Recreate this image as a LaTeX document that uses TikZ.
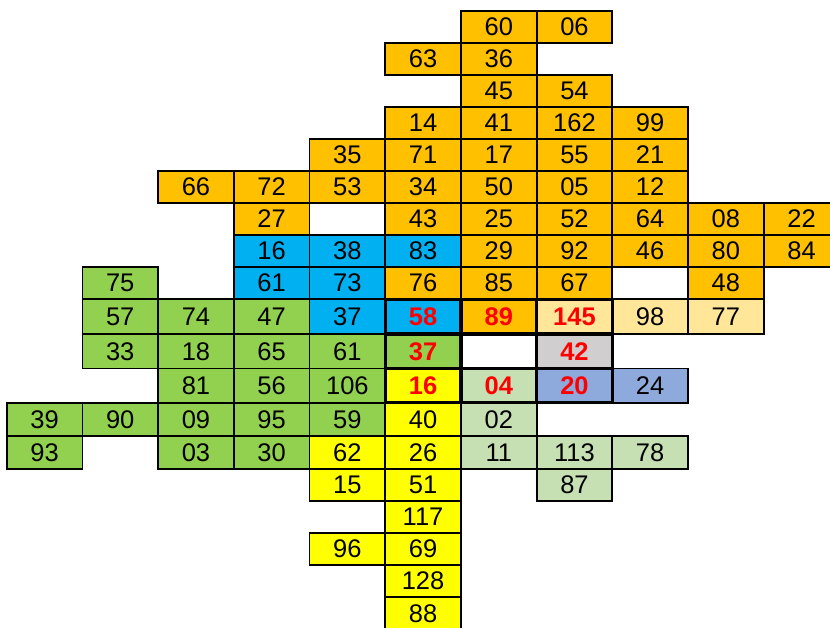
\documentclass[tikz,border=0pt]{standalone}
\usepackage{fontspec}
\setmainfont{Liberation Sans}
\pgfdeclarelayer{bg}
\pgfsetlayers{bg,main}
\definecolor{cO}{HTML}{FFC000}
\definecolor{cB}{HTML}{00B0F0}
\definecolor{cG}{HTML}{92D050}
\definecolor{cY}{HTML}{FFFF00}
\definecolor{cLO}{HTML}{FFE699}
\definecolor{cLG}{HTML}{C6E0B4}
\definecolor{cGr}{HTML}{D0CECE}
\definecolor{cBG}{HTML}{8EA9DB}
\definecolor{cR}{HTML}{FF0000}
\def\Yarr{{10.7,42.7,74.7,106.7,138.7,170.7,202.7,234.9,266.7,299.3,334,368.5,402.7,436,468.7,500.7,532.7,565,597.3,629.5}}
\tikzset{
  cellline/.style={draw=black, line width=1.8pt},
  thickline/.style={draw=black, line width=3.4pt, line cap=rect},
  celltext/.style={inner sep=0pt, font=\fontsize{25.5}{25.5}\selectfont, text=black},
  hot/.style={text=cR, font=\fontsize{25.5}{25.5}\selectfont\bfseries}
}
\newcommand\cel[5][]{%
  \pgfmathsetmacro\ya{\Yarr[#2]}%
  \pgfmathsetmacro\yb{\Yarr[#2+1]}%
  \pgfmathsetmacro\xa{6.7+75.7*#3}%
  \pgfmathsetmacro\xb{\xa+75.7}%
  \begin{pgfonlayer}{bg}\fill[#4] (\xa,\ya) rectangle (\xb,\yb);\end{pgfonlayer}%
  \draw[cellline] (\xa,\ya) rectangle (\xb,\yb);%
  \node[celltext,#1] (c#2x#3) at ({(\xa+\xb)/2},{(\ya+\yb)/2}) {#5};%
}
\begin{document}
\begin{tikzpicture}[x=1pt,y=-1pt]
\useasboundingbox (0,0) rectangle (830,627);
% row 0
\cel{0}{6}{cO}{60}\cel{0}{7}{cO}{06}
% row 1
\cel{1}{5}{cO}{63}\cel{1}{6}{cO}{36}
% row 2
\cel{2}{6}{cO}{45}\cel{2}{7}{cO}{54}
% row 3
\cel{3}{5}{cO}{14}\cel{3}{6}{cO}{41}\cel{3}{7}{cO}{162}\cel{3}{8}{cO}{99}
% row 4
\cel{4}{4}{cO}{35}\cel{4}{5}{cO}{71}\cel{4}{6}{cO}{17}\cel{4}{7}{cO}{55}\cel{4}{8}{cO}{21}
% row 5
\cel{5}{2}{cO}{66}\cel{5}{3}{cO}{72}\cel{5}{4}{cO}{53}\cel{5}{5}{cO}{34}\cel{5}{6}{cO}{50}\cel{5}{7}{cO}{05}\cel{5}{8}{cO}{12}
% row 6
\cel{6}{3}{cO}{27}\cel{6}{5}{cO}{43}\cel{6}{6}{cO}{25}\cel{6}{7}{cO}{52}\cel{6}{8}{cO}{64}\cel{6}{9}{cO}{08}\cel{6}{10}{cO}{22}
% row 7
\cel{7}{3}{cB}{16}\cel{7}{4}{cB}{38}\cel{7}{5}{cB}{83}\cel{7}{6}{cO}{29}\cel{7}{7}{cO}{92}\cel{7}{8}{cO}{46}\cel{7}{9}{cO}{80}\cel{7}{10}{cO}{84}
% row 8
\cel{8}{1}{cG}{75}\cel{8}{3}{cB}{61}\cel{8}{4}{cB}{73}\cel{8}{5}{cO}{76}\cel{8}{6}{cO}{85}\cel{8}{7}{cO}{67}\cel{8}{9}{cO}{48}
% row 9
\cel{9}{1}{cG}{57}\cel{9}{2}{cG}{74}\cel{9}{3}{cG}{47}\cel{9}{4}{cB}{37}\cel[hot]{9}{5}{cB}{58}\cel[hot]{9}{6}{cO}{89}\cel[hot]{9}{7}{cLO}{145}\cel{9}{8}{cLO}{98}\cel{9}{9}{cLO}{77}
% row 10
\cel{10}{1}{cG}{33}\cel{10}{2}{cG}{18}\cel{10}{3}{cG}{65}\cel{10}{4}{cG}{61}\cel[hot]{10}{5}{cG}{37}\cel{10}{6}{white}{}\cel[hot]{10}{7}{cGr}{42}
% row 11
\cel{11}{2}{cG}{81}\cel{11}{3}{cG}{56}\cel{11}{4}{cG}{106}\cel[hot]{11}{5}{cY}{16}\cel[hot]{11}{6}{cLG}{04}\cel[hot]{11}{7}{cBG}{20}\cel{11}{8}{cBG}{24}
% row 12
\cel{12}{0}{cG}{39}\cel{12}{1}{cG}{90}\cel{12}{2}{cG}{09}\cel{12}{3}{cG}{95}\cel{12}{4}{cG}{59}\cel{12}{5}{cY}{40}\cel{12}{6}{cLG}{02}
% row 13
\cel{13}{0}{cG}{93}\cel{13}{2}{cG}{03}\cel{13}{3}{cG}{30}\cel{13}{4}{cY}{62}\cel{13}{5}{cY}{26}\cel{13}{6}{cLG}{11}\cel{13}{7}{cLG}{113}\cel{13}{8}{cLG}{78}
% row 14
\cel{14}{4}{cY}{15}\cel{14}{5}{cY}{51}\cel{14}{7}{cLG}{87}
% row 15-18
\cel{15}{5}{cY}{117}
\cel{16}{4}{cY}{96}\cel{16}{5}{cY}{69}
\cel{17}{5}{cY}{128}
\cel{18}{5}{cY}{88}
% thick block
\coordinate (bA) at (385.2,299.3);
\coordinate (bB) at (612.3,402.7);
\draw[thickline] (bA) rectangle (bB);
\draw[thickline] (460.9,299.3) -- (460.9,402.7);
\draw[thickline] (536.6,299.3) -- (536.6,402.7);
\draw[thickline] (385.2,334) -- (612.3,334);
\draw[thickline] (385.2,368.5) -- (612.3,368.5);
\end{tikzpicture}
\end{document}
